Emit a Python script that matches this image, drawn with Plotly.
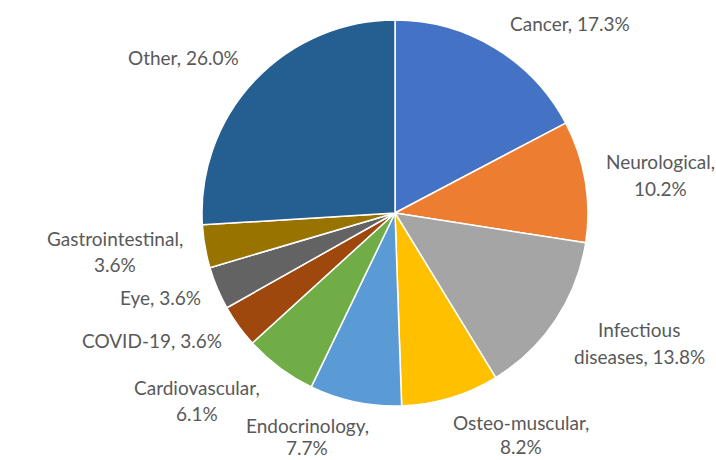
import plotly.graph_objects as go

# ---- data ----
categories = ["Cancer", "Neurological", "Infectious diseases", "Osteo-muscular",
              "Endocrinology", "Cardiovascular", "COVID-19", "Eye",
              "Gastrointestinal", "Other"]
shares = [17.3, 10.2, 13.8, 8.2, 7.7, 6.1, 3.6, 3.6, 3.6, 26.0]
label_lines = [
    ["Cancer, 17.3%"],
    ["Neurological,", "10.2%"],
    ["Infectious", "diseases, 13.8%"],
    ["Osteo-muscular,", "8.2%"],
    ["Endocrinology,", "7.7%"],
    ["Cardiovascular,", "6.1%"],
    ["COVID-19, 3.6%"],
    ["Eye, 3.6%"],
    ["Gastrointestinal,", "3.6%"],
    ["Other, 26.0%"],
]

# ---- styles ----
colors = ["#4472C4", "#ED7D31", "#A5A5A5", "#FFC000", "#5B9BD5",
          "#70AD47", "#9E480E", "#636363", "#997300", "#255E91"]
W, H = 716, 460
# label anchor positions (pixel centre of first line) and line gap per label
label_pos = [(570, 23), (660, 162), (639, 329), (521, 422), (307, 425),
             (197, 387), (152, 340), (160, 297), (115, 238), (183, 58)]
line_gaps = [26, 26, 27, 24, 22, 26, 26, 26, 26, 26]

fig = go.Figure(go.Pie(
    labels=categories, values=shares, sort=False, direction="clockwise",
    rotation=0, textinfo="none", hoverinfo="label+percent",
    marker=dict(colors=colors, line=dict(color="white", width=1.5)),
    domain=dict(x=[202 / W, 588 / W], y=[1 - 406 / H, 1 - 20 / H]),
    showlegend=False,
))

for lines, (px, py), gap in zip(label_lines, label_pos, line_gaps):
    for i, t in enumerate(lines):
        fig.add_annotation(
            x=px / W, y=1 - (py + i * gap) / H, xref="paper", yref="paper",
            text=t, showarrow=False, xanchor="center", yanchor="middle",
            font=dict(family="Lato, Open Sans, sans-serif", size=19, color="#595959"),
        )

fig.update_layout(
    width=W, height=H, margin=dict(l=0, r=0, t=0, b=0),
    paper_bgcolor="white", plot_bgcolor="white",
)
fig.write_html("out.html", config={"displayModeBar": False},
               post_script="document.body.style.margin='0';")
